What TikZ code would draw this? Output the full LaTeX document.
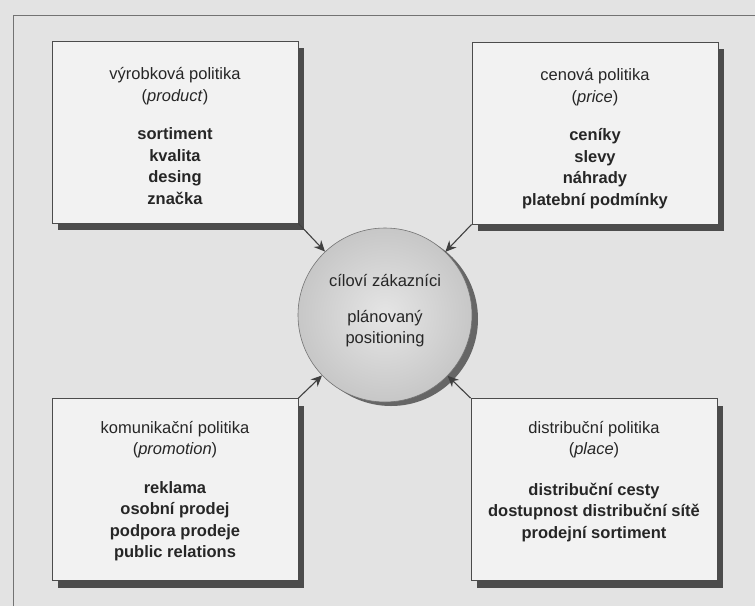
\documentclass[tikz,border=0pt]{standalone}
\usepackage{fontspec}
\setmainfont{Liberation Sans}
\usetikzlibrary{shapes,arrows.meta,positioning,shadows}

\begin{document}
\begin{tikzpicture}[x=1pt, y=-1pt, box/.style={
% The shape:
rectangle,
% The size:
minimum width=246pt, minimum height=182pt, inner sep=0pt,
% The border:
draw=black!70, line width=0.8pt, fill=black!5,
% The shadow:
drop shadow={shadow xshift=6pt, shadow yshift=-7pt, fill=black!70, opacity=1}
}, boxtext/.style={
align=center, inner sep=0pt, text=black!85,
font=\fontsize{16.5}{21.5}\selectfont
}, target/.style={
circle, minimum size=174pt, inner sep=0pt,
draw=black!55, line width=0.6pt,
inner color=black!10, outer color=black!22,
drop shadow={shadow xshift=6pt, shadow yshift=-4pt, fill=black!60, opacity=1}
}, arr/.style={-{Stealth[length=11pt,width=10pt]}, line width=1.1pt, draw=black!75}]

	% page
	\useasboundingbox[fill=black!11] (0,0) rectangle (755,606);
	\draw[black!55, line width=0.8pt] (13,606) -- (13,15) -- (755,15);

	% the four policies
	\node (prod) [box] at (175,132) {};
	\node (price) [box] at (595,133) {};
	\node (prom) [box] at (175,489.5) {};
	\node (place) [box] at (594,489.5) {};

	\node (prodtxt) [boxtext, below=27pt of prod.north] {v\'yrobkov\'a politika\\(\textit{product})\\[17pt]
		\textbf{sortiment}\\\textbf{kvalita}\\\textbf{desing}\\\textbf{zna\v{c}ka}};
	\node (pricetxt) [boxtext, below=27pt of price.north] {cenov\'a politika\\(\textit{price})\\[17pt]
		\textbf{cen\'iky}\\\textbf{slevy}\\\textbf{n\'ahrady}\\\textbf{platebn\'i podm\'inky}};
	\node (promtxt) [boxtext, below=23pt of prom.north] {komunika\v{c}n\'i politika\\(\textit{promotion})\\[17pt]
		\textbf{reklama}\\\textbf{osobn\'i prodej}\\\textbf{podpora prodeje}\\\textbf{public relations}};
	\node (placetxt) [boxtext, below=23pt of place.north] {distribu\v{c}n\'i politika\\(\textit{place})\\[19pt]
		\textbf{distribu\v{c}n\'i cesty}\\\textbf{dostupnost distribu\v{c}n\'i s\'it\v{e}}\\\textbf{prodejn\'i sortiment}};

	% the target group
	\node (circ) [target] at (385,315) {};
	\node (circtxt) [boxtext] at (385,311) {c\'ilov\'i z\'akazn\'ici\\[14pt]pl\'anovan\'y\\positioning};

	\draw[arr] (prod.south east) -- (circ);
	\draw[arr] (price.south west) -- (circ);
	\draw[arr] (prom.north east) -- (circ);
	\draw[arr] (place.north west) -- (circ);
\end{tikzpicture}
\end{document}
